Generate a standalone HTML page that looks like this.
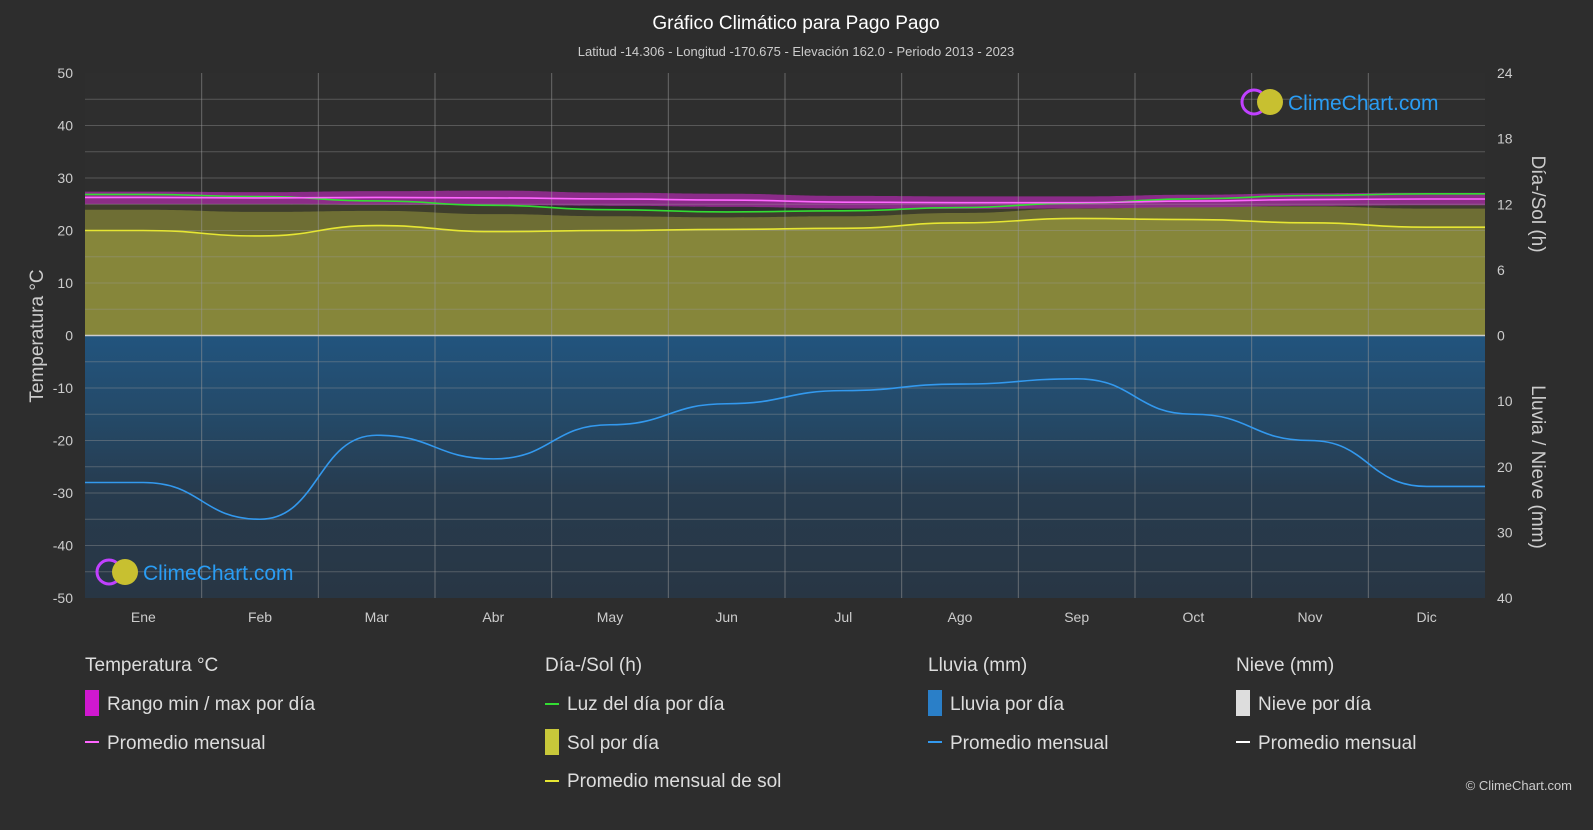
<!DOCTYPE html>
<html><head><meta charset="utf-8"><style>
body{margin:0;background:#2d2d2d;font-family:"Liberation Sans",sans-serif;}
svg text{font-family:"Liberation Sans",sans-serif;}
</style></head><body>
<svg id="c" width="1593" height="825" xmlns="http://www.w3.org/2000/svg">
<defs>
<linearGradient id="rg" x1="0" y1="0" x2="0" y2="1">
<stop offset="0" stop-color="#22547e"/><stop offset="0.3" stop-color="#244a69"/><stop offset="0.6" stop-color="#273b4e"/><stop offset="1" stop-color="#283644"/>
</linearGradient>
</defs>
<rect width="1593" height="825" fill="#2d2d2d"/>
<text x="796" y="29" fill="#fff" font-size="19" text-anchor="middle">Gráfico Climático para Pago Pago</text>
<text x="796" y="56" fill="#ccc" font-size="13" text-anchor="middle">Latitud -14.306 - Longitud -170.675 - Elevación 162.0 - Periodo 2013 - 2023</text>
<g id="plot"></g>
<g id="legend" font-size="19" fill="#ddd">
<text x="85" y="671">Temperatura °C</text>
<rect x="85" y="690" width="14" height="26" fill="#d018d0"/>
<text x="107" y="710">Rango min / max por día</text>
<line x1="85" y1="742" x2="99" y2="742" stroke="#ff66ff" stroke-width="2"/>
<text x="107" y="749">Promedio mensual</text>
<text x="545" y="671">Día-/Sol (h)</text>
<line x1="545" y1="704" x2="559" y2="704" stroke="#33dd33" stroke-width="2"/>
<text x="567" y="710">Luz del día por día</text>
<rect x="545" y="729" width="14" height="26" fill="#c8c83a"/>
<text x="567" y="749">Sol por día</text>
<line x1="545" y1="781" x2="559" y2="781" stroke="#e6e633" stroke-width="2"/>
<text x="567" y="787">Promedio mensual de sol</text>
<text x="928" y="671">Lluvia (mm)</text>
<rect x="928" y="690" width="14" height="26" fill="#2a7fc8"/>
<text x="950" y="710">Lluvia por día</text>
<line x1="928" y1="742" x2="942" y2="742" stroke="#3399ee" stroke-width="2"/>
<text x="950" y="749">Promedio mensual</text>
<text x="1236" y="671">Nieve (mm)</text>
<rect x="1236" y="690" width="14" height="26" fill="#ddd"/>
<text x="1258" y="710">Nieve por día</text>
<line x1="1236" y1="742" x2="1250" y2="742" stroke="#fff" stroke-width="2"/>
<text x="1258" y="749">Promedio mensual</text>
</g>
<text x="1572" y="790" fill="#ccc" font-size="13" text-anchor="end">© ClimeChart.com</text>
</svg>
<script>
const months=["Ene","Feb","Mar","Abr","May","Jun","Jul","Ago","Sep","Oct","Nov","Dic"];
const tempAvg=[26.3,26.2,26.3,26.2,26.0,25.8,25.4,25.3,25.3,25.6,25.9,26.0];
const tempMax=[27.4,27.3,27.5,27.6,27.2,27.0,26.6,26.5,26.5,26.8,27.1,27.2];
const tempMin=[25.0,25.0,24.9,24.8,24.7,24.5,24.2,24.1,24.2,24.4,24.7,24.8];
const daylight=[12.9,12.7,12.3,11.9,11.5,11.3,11.4,11.7,12.1,12.5,12.8,12.95];
const sunAvg=[9.6,9.1,10.05,9.5,9.6,9.7,9.8,10.3,10.7,10.6,10.3,9.9];
const sunMax=[11.5,11.3,11.4,11.1,10.9,10.8,10.9,11.2,11.6,11.8,11.8,11.6];
const rainAvg=[22.4,28.0,15.2,18.8,13.6,10.4,8.4,7.4,6.6,12.0,16.0,23.0];
const tempTicks=[50,40,30,20,10,0,-10,-20,-30,-40,-50];
const sunTicks=[24,18,12,6,0];
const rainTicks=[0,10,20,30,40];

const X0=85,X1=1485,Y0=73,Y1=598;
const yT=t=>Y0+(50-t)*(Y1-Y0)/100;
const zero=yT(0);
const yS=h=>zero-h*(zero-Y0)/24;
const yR=r=>zero+r*(Y1-zero)/40;
const mw=(X1-X0)/12;
const xM=i=>X0+(i+0.5)*mw;
const g=document.getElementById('plot');
const NS="http://www.w3.org/2000/svg";
function mk(tag,attrs,parent){const e=document.createElementNS(NS,tag);for(const k in attrs)e.setAttribute(k,attrs[k]);(parent||g).appendChild(e);return e;}
function pts(arr,fy){const p=[[X0,fy(arr[0])]];arr.forEach((v,i)=>p.push([xM(i),fy(v)]));p.push([X1,fy(arr[11])]);return p;}
function smooth(p){let d="M"+p[0][0]+","+p[0][1];for(let i=0;i<p.length-1;i++){const a=p[i],b=p[i+1],mx=(a[0]+b[0])/2;d+=` C${mx},${a[1]} ${mx},${b[1]} ${b[0]},${b[1]}`;}return d;}

mk('rect',{x:X0,y:Y0,width:X1-X0,height:Y1-Y0,fill:'#2e2e2e'});
let p=pts(daylight,yS);
let e=mk('path',{d:smooth(p)+` L${X1},${zero} L${X0},${zero} Z`,fill:'#3e3e2c'});

p=pts(sunMax,yS);
e=mk('path',{d:smooth(p)+` L${X1},${zero} L${X0},${zero} Z`,fill:'#6e6e34'});

p=pts(sunAvg,yS);
e=mk('path',{d:smooth(p)+` L${X1},${zero} L${X0},${zero} Z`,fill:'#86863a'});

e=mk('rect',{x:X0,y:zero,width:X1-X0,height:Y1-zero,fill:'url(#rg)'});

let pu=pts(tempMax,yT),pl=pts(tempMin,yT).reverse();
e=mk('path',{d:smooth(pu)+" L"+smooth(pl).slice(1)+" Z",fill:'#9a2a98',opacity:0.85});

for(let t=45;t>-50;t-=5){mk('line',{x1:X0,x2:X1,y1:yT(t),y2:yT(t),stroke:'#999','stroke-opacity':0.4,'stroke-width':1});}
for(let i=1;i<12;i++){const x=X0+i*mw;mk('line',{x1:x,x2:x,y1:Y0,y2:Y1,stroke:'#999','stroke-opacity':0.55,'stroke-width':1});}
mk('line',{x1:X0,x2:X1,y1:zero,y2:zero,stroke:'#ccc','stroke-width':1.5});
[[daylight,yS,'#33dd33','daylight-line'],[sunAvg,yS,'#e6e633','sunshine-avg-line'],[tempAvg,yT,'#ff66ff','temp-avg-line'],[rainAvg,yR,'#3399ee','rain-avg-line']].forEach(([a,f,c,n])=>{
 const l=mk('path',{d:smooth(pts(a,f)),fill:'none',stroke:c,'stroke-width':1.6});
 });
tempTicks.forEach(t=>{const tx=mk('text',{x:X0-12,y:yT(t)+5,fill:'#ccc','font-size':14,'text-anchor':'end'});tx.textContent=t;
 });
sunTicks.forEach(h=>{const tx=mk('text',{x:X1+12,y:yS(h)+5,fill:'#ccc','font-size':14});tx.textContent=h;
 });
rainTicks.slice(1).forEach(r=>{const tx=mk('text',{x:X1+12,y:yR(r)+5,fill:'#ccc','font-size':14});tx.textContent=r;
 });
months.forEach((m,i)=>{const tx=mk('text',{x:xM(i),y:622,fill:'#ccc','font-size':14,'text-anchor':'middle'});tx.textContent=m;
 });
let t=mk('text',{transform:'translate(43,336) rotate(-90)',fill:'#ccc','font-size':19,'text-anchor':'middle'});t.textContent='Temperatura °C';

t=mk('text',{transform:'translate(1532,204) rotate(90)',fill:'#ccc','font-size':19,'text-anchor':'middle'});t.textContent='Día-/Sol (h)';

t=mk('text',{transform:'translate(1532,467) rotate(90)',fill:'#ccc','font-size':19,'text-anchor':'middle'});t.textContent='Lluvia / Nieve (mm)';

function logo(x,y,name){const gg=mk('g',{});
 mk('circle',{cx:x,cy:y,r:12,fill:'none',stroke:'#c040ff','stroke-width':3},gg);
 mk('circle',{cx:x+16,cy:y,r:13,fill:'#c8c030'},gg);
 const tx=mk('text',{x:x+34,y:y+8,fill:'#2a9df4','font-size':21},gg);tx.textContent='ClimeChart.com';}
logo(1254,102,'logo-top');logo(109,572,'logo-bottom');
</script>
</body></html>
